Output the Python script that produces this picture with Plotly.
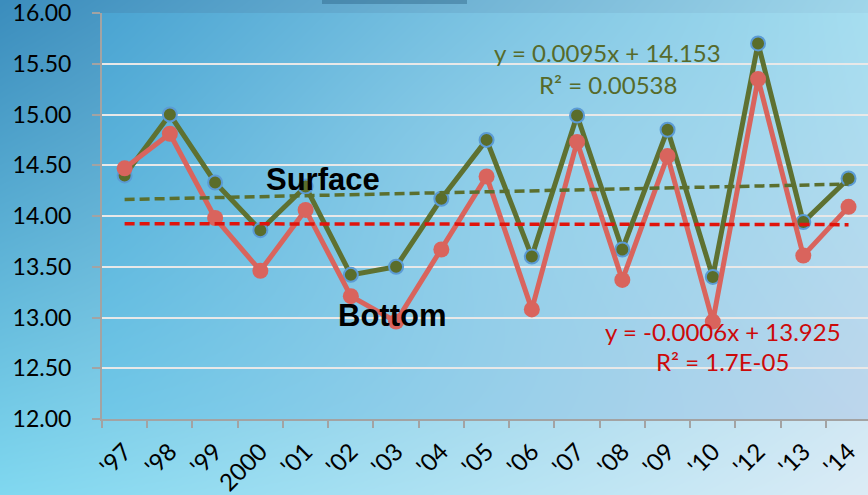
import base64, struct, zlib
import numpy as np
import plotly.graph_objects as go

# ---------------- data ----------------
years = ["'97", "'98", "'99", "2000", "'01", "'02", "'03", "'04", "'05",
         "'06", "'07", "'08", "'09", "'10", "'12", "'13", "'14"]
surface = [14.40, 15.00, 14.33, 13.86, 14.29, 13.42, 13.50, 14.17, 14.75,
           13.60, 14.99, 13.67, 14.85, 13.40, 15.70, 13.94, 14.37]
bottom = [14.47, 14.81, 13.98, 13.46, 14.06, 13.21, 12.96, 13.67, 14.39,
          13.08, 14.73, 13.37, 14.59, 12.96, 15.35, 13.61, 14.09]
surf_slope, surf_icpt, surf_r2 = 0.0095, 14.153, "0.00538"
bot_slope, bot_icpt, bot_r2 = -0.0006, 13.925, "1.7E-05"
y_ticks = [12.0, 12.5, 13.0, 13.5, 14.0, 14.5, 15.0, 15.5, 16.0]

W, H = 868, 495
ML, MR, MT, MB = 102, 0, 13, 76

# ---------------- background gradient image ----------------
def bilinear(tl, tr, bl, br, w, h):
    tl, tr, bl, br = [np.array(c, float) for c in (tl, tr, bl, br)]
    u = np.linspace(0, 1, w)[None, :, None]
    v = np.linspace(0, 1, h)[:, None, None]
    top = tl * (1 - u) + tr * u
    bot = bl * (1 - u) + br * u
    return top * (1 - v) + bot * v

img = bilinear((59, 141, 189), (160, 214, 234), (128, 216, 240), (220, 236, 246), W, H)
pw, ph = W - ML - MR, H - MT - MB
inner = bilinear((74, 164, 210), (166, 222, 240), (112, 200, 232), (190, 214, 236), pw, ph)
uu = np.linspace(-1, 1, pw)[None, :]
vv = np.linspace(-1, 1, ph)[:, None]
glow = np.exp(-((uu - 0.1) ** 2 / 0.5 + (vv + 0.2) ** 2 / 0.6))[:, :, None]
inner = inner + glow * (np.array([200, 245, 255]) - inner) * 0.16
img[MT:MT + ph, ML:ML + pw] = inner
img = np.clip(img, 0, 255).astype(np.uint8)

def png_bytes(arr):
    h, w, _ = arr.shape
    d2 = arr.reshape(h, w * 3).astype(np.int16)
    f2 = d2.copy()
    f2[:, 3:] = (d2[:, 3:] - d2[:, :-3]) % 256
    f2 = f2.astype(np.uint8)
    raw = b"".join(b"\x01" + f2[y].tobytes() for y in range(h))

    def chunk(t, data):
        c = struct.pack(">I", len(data)) + t + data
        return c + struct.pack(">I", zlib.crc32(t + data) & 0xffffffff)

    return (b"\x89PNG\r\n\x1a\n"
            + chunk(b"IHDR", struct.pack(">IIBBBBB", w, h, 8, 2, 0, 0, 0))
            + chunk(b"IDAT", zlib.compress(raw, 9))
            + chunk(b"IEND", b""))

bg_src = "data:image/png;base64," + base64.b64encode(png_bytes(img)).decode()

# ---------------- figure ----------------
GREEN = "#5e7131"
RED = "#d9645d"
fig = go.Figure()

fig.add_trace(go.Scatter(
    x=years, y=surface, mode="lines+markers", name="Surface",
    line=dict(color=GREEN, width=5),
    marker=dict(size=14, color="#5a6d2b", line=dict(color="#5b9bd5", width=2)),
))
fig.add_trace(go.Scatter(
    x=years, y=bottom, mode="lines+markers", name="Bottom",
    line=dict(color=RED, width=5),
    marker=dict(size=16, color=RED),
))

xs = [1, len(years)]
fig.add_trace(go.Scatter(
    x=[years[0], years[-1]], y=[surf_slope * v + surf_icpt for v in xs],
    mode="lines", line=dict(color="#5b6f2e", width=3.5, dash="10px,5px"),
))
fig.add_trace(go.Scatter(
    x=[years[0], years[-1]], y=[bot_slope * v + bot_icpt for v in xs],
    mode="lines", line=dict(color="#e0140c", width=3.5, dash="10px,5px"),
))

FONT = "Lato, Carlito, sans-serif"

def ann(x, y, text, size, color, family=FONT):
    fig.add_annotation(x=x, y=y, xref="x", yref="y", text=text, showarrow=False,
                       xanchor="center", yanchor="middle",
                       font=dict(family=family, size=size, color=color))

ann(4.38, 14.36, "<b>Surface</b>", 31, "black", family="Liberation Sans, Arial, sans-serif")
ann(5.91, 13.02, "<b>Bottom</b>", 31, "black", family="Liberation Sans, Arial, sans-serif")
ann(10.67, 15.615, f"y = {surf_slope:.4f}x + {surf_icpt:.3f}", 24, "#566a2b")
ann(10.68, 15.30, f"R² = {surf_r2}", 24, "#566a2b")
ann(13.22, 12.865, f"y = {bot_slope:.4f}x + {bot_icpt:.3f}", 24, "#cc0a0a")
ann(13.22, 12.57, f"R² = {bot_r2}", 24, "#cc0a0a")

fig.add_layout_image(
    source=bg_src, xref="paper", yref="paper",
    x=-ML / pw, y=1 + MT / ph, sizex=W / pw, sizey=H / ph,
    xanchor="left", yanchor="top", sizing="stretch", layer="below",
)

# partially visible dark box at the top edge
fig.add_shape(type="rect", xref="paper", yref="paper",
              x0=(322 - ML) / pw, x1=(467 - ML) / pw,
              y0=1 + (MT - 4) / ph, y1=1 + MT / ph + 0.01,
              fillcolor="rgba(30,80,115,0.35)", line=dict(width=0), layer="above")

fig.update_layout(
    width=W, height=H, autosize=False,
    margin=dict(l=ML, r=MR, t=MT, b=MB, pad=0, autoexpand=False),
    paper_bgcolor="#7cc6e4", plot_bgcolor="rgba(0,0,0,0)",
    showlegend=False,
    font=dict(family=FONT, size=23, color="black"),
    xaxis=dict(
        type="category", categoryorder="array", categoryarray=years,
        range=[-0.5, len(years) - 0.57], automargin=False,
        tickson="boundaries", ticks="outside", ticklen=7, tickwidth=2,
        tickcolor="#a3a3a3", showline=True, linecolor="#a3a3a3", linewidth=2,
        showgrid=False, tickangle=-45, tickfont=dict(family=FONT, size=24, color="black"),
        ticklabelstandoff=7, ticklabeloverflow="allow", fixedrange=True,
    ),
    yaxis=dict(
        range=[12, 16], tickvals=y_ticks, tickformat=".2f", automargin=False,
        ticks="outside", ticklen=8, tickwidth=2, tickcolor="#a3a3a3",
        showline=True, linecolor="#a3a3a3", linewidth=2,
        showgrid=True, gridcolor="#e8e8e8", gridwidth=2, zeroline=False,
        tickfont=dict(family=FONT, size=23, color="black"), ticklabelstandoff=16,
        ticklabeloverflow="allow", fixedrange=True,
    ),
)

fig.write_html("out.html", config={"displayModeBar": False},
               post_script="document.body.style.margin='0';document.body.style.overflow='hidden';")
